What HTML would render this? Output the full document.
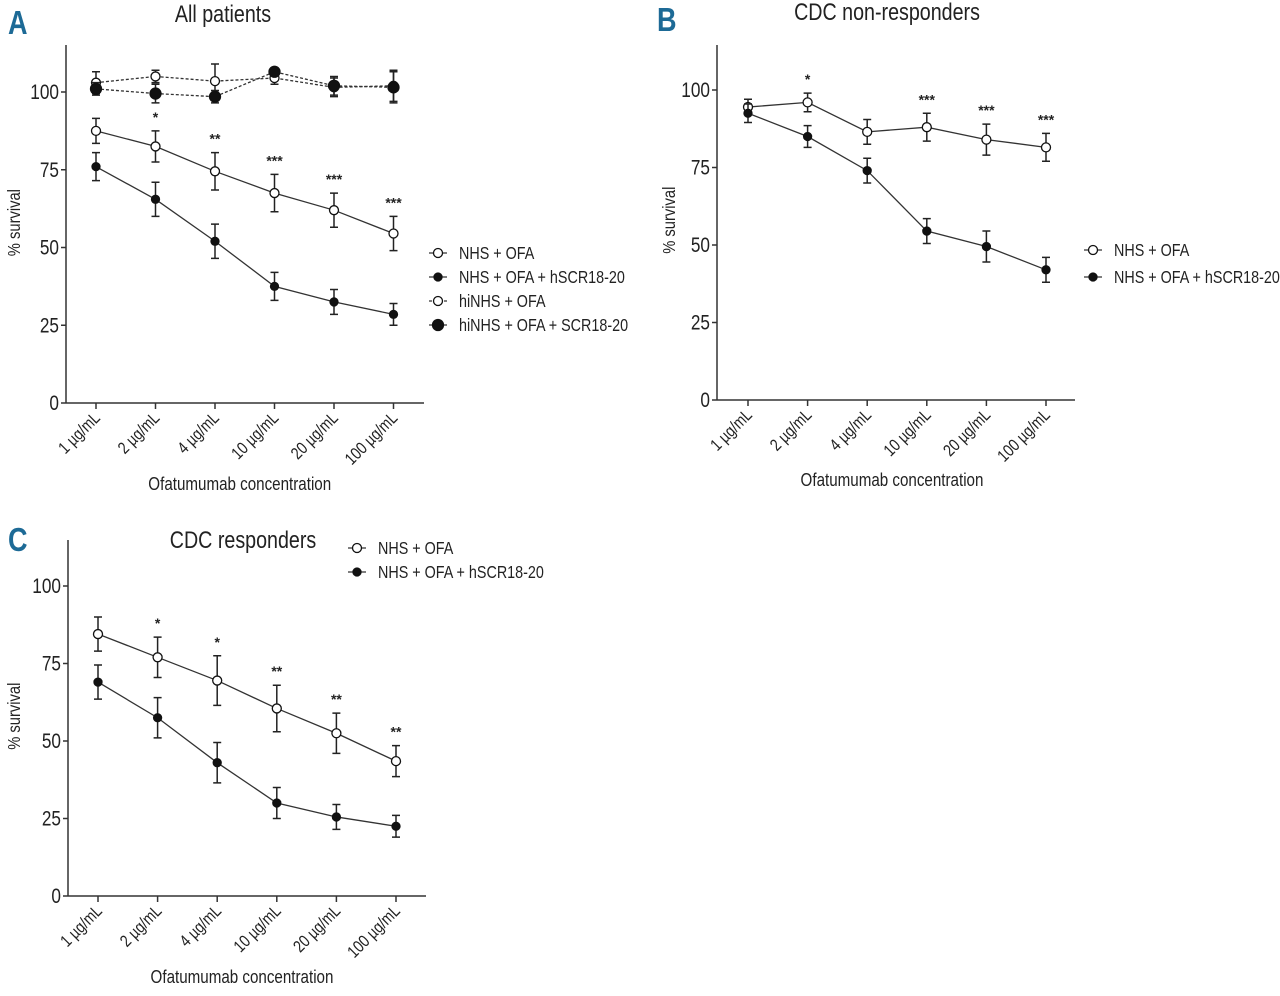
<!DOCTYPE html>
<html><head><meta charset="utf-8">
<style>
body{margin:0;background:#fff;}
svg{display:block;font-family:"Liberation Sans Narrow","Liberation Sans",sans-serif;}
text{fill:#222;}
</style></head>
<body>
<svg id="fig" width="1280" height="996" viewBox="0 0 1280 996"></svg>
<script>
const categories=["1 µg/mL","2 µg/mL","4 µg/mL","10 µg/mL","20 µg/mL","100 µg/mL"];
const yTicks=[0,25,50,75,100];
// Panel A
const aNhsOfa=[87.5,82.5,74.5,67.5,62,54.5];
const aNhsOfaErr=[4,5,6,6,5.5,5.5];
const aNhsScr=[76,65.5,52,37.5,32.5,28.5];
const aNhsScrErr=[4.5,5.5,5.5,4.5,4,3.5];
const aHiOfa=[103,105,103.5,104.5,101.5,102];
const aHiOfaErr=[3.5,2,5.5,2,3,5];
const aHiScr=[101,99.5,98.5,106.5,102,101.5];
const aHiScrErr=[2,3,2,1,3,5];
const aStars=["","*","**","***","***","***"];
// Panel B
const bNhsOfa=[94.5,96,86.5,88,84,81.5];
const bNhsOfaErr=[2.5,3,4,4.5,5,4.5];
const bNhsScr=[92.5,85,74,54.5,49.5,42];
const bNhsScrErr=[3,3.5,4,4,5,4];
const bStars=["","*","","***","***","***"];
// Panel C
const cNhsOfa=[84.5,77,69.5,60.5,52.5,43.5];
const cNhsOfaErr=[5.5,6.5,8,7.5,6.5,5];
const cNhsScr=[69,57.5,43,30,25.5,22.5];
const cNhsScrErr=[5.5,6.5,6.5,5,4,3.5];
const cStars=["","*","*","**","**","**"];

const NS="http://www.w3.org/2000/svg";
const svg=document.getElementById('fig');
const SX=0.82;
function el(tag,attrs,parent){const e=document.createElementNS(NS,tag);for(const k in attrs)e.setAttribute(k,attrs[k]);(parent||svg).appendChild(e);return e;}
function txt(x,y,s,attrs,parent,rot){
  const a=Object.assign({},attrs);
  a.x=0;a.y=0;
  a.transform=`translate(${x} ${y})`+(rot?` rotate(${rot})`:'')+` scale(${SX} 1)`;
  const t=el('text',a,parent);
  t.textContent=s;
  return t;
}

function panel(cfg){
  const g=el('g',{});
  
  
  const ax=cfg.ax,y0=cfg.y0,y100=cfg.y100,x0=cfg.x0,dx=cfg.dx;
  const ys=v=>y0+(y100-y0)*v/100;
  const xs=i=>x0+dx*i;
  const L=txt(cfg.lx,cfg.ly,cfg.letter,{'font-size':33,'font-weight':'bold',style:'fill:#1d6a96'},g);
  
  
  const T=txt(cfg.tx,cfg.ty,cfg.title,{'font-size':24,'text-anchor':'middle'},g);
  
  
  const ya=el('line',{x1:ax,y1:cfg.top,x2:ax,y2:y0,stroke:'#333','stroke-width':1.5},g);
  
  
  const xa=el('line',{x1:ax,y1:y0,x2:cfg.right,y2:y0,stroke:'#333','stroke-width':1.5},g);
  
  
  yTicks.forEach(v=>{
    el('line',{x1:ax-5,y1:ys(v),x2:ax,y2:ys(v),stroke:'#333','stroke-width':1.5},g);
    const t=txt(ax-7,ys(v)+7,String(v),{'font-size':21,'text-anchor':'end'},g);
    
    
  });
  categories.forEach((c,i)=>{
    el('line',{x1:xs(i),y1:y0,x2:xs(i),y2:y0+6,stroke:'#333','stroke-width':1.5},g);
    const t=txt(xs(i)+5,y0+16,c,{'font-size':17,'text-anchor':'end'},g,-45);
    
    
  });
  const yl=txt(cfg.ylx,ys(58),'% survival',{'font-size':18,'text-anchor':'middle'},g,-90);
  
  
  const xl=txt((xs(0)+xs(5))/2-5,cfg.xly,'Ofatumumab concentration',{'font-size':18.5,'text-anchor':'middle'},g);
  
  
  cfg.series.forEach(s=>{
    const sg=el('g',{},g);
    
    
    const pts=s.vals.map((v,i)=>xs(i)+','+ys(v)).join(' ');
    el('polyline',{points:pts,fill:'none',stroke:'#333','stroke-width':1.3,'stroke-dasharray':s.dash?'3,2':'none'},sg);
    s.vals.forEach((v,i)=>{
      const e=s.err[i],x=xs(i);
      el('path',{d:`M${x},${ys(v-e)}V${ys(v+e)}M${x-4},${ys(v-e)}H${x+4}M${x-4},${ys(v+e)}H${x+4}`,stroke:'#222','stroke-width':1.5,fill:'none'},sg);
      const m=el('circle',{cx:x,cy:ys(v),r:s.r,fill:s.filled?'#111':'#fff',stroke:'#111','stroke-width':1.3},sg);
      
      
    });
  });
  cfg.stars.forEach((st,i)=>{
    if(!st)return;
    const top=cfg.series[0].vals[i]+cfg.series[0].err[i];
    const t=el('text',{x:xs(i),y:ys(top)-9,'font-size':14,'text-anchor':'middle','font-weight':'bold'},g);
    t.textContent=st;
    
    
  });
  cfg.series.forEach((s,i)=>{
    const y=cfg.legY+i*cfg.legDy;
    const lg=el('g',{},g);
    
    
    el('line',{x1:cfg.legX-9,y1:y,x2:cfg.legX+9,y2:y,stroke:'#333','stroke-width':1.3,'stroke-dasharray':s.dash?'3,2':'none'},lg);
    el('circle',{cx:cfg.legX,cy:y,r:s.r,fill:s.filled?'#111':'#fff',stroke:'#111','stroke-width':1.3},lg);
    txt(cfg.legX+21,y+6,s.label,{'font-size':17.5},lg);
  });
}

panel({name:'panel-a-all-patients',letter:'A',lx:8,ly:34,title:'All patients',tx:223,ty:22,
  ax:66,top:45,right:424,y0:403,y100:92,x0:96,dx:59.5,ylx:20,xly:490,
  stars:aStars,legX:438,legY:253,legDy:24,
  series:[
    {name:'series-nhs-ofa',label:'NHS + OFA',vals:aNhsOfa,err:aNhsOfaErr,filled:false,r:4.5,dash:false},
    {name:'series-nhs-ofa-hscr',label:'NHS + OFA + hSCR18-20',vals:aNhsScr,err:aNhsScrErr,filled:true,r:4,dash:false},
    {name:'series-hinhs-ofa',label:'hiNHS + OFA',vals:aHiOfa,err:aHiOfaErr,filled:false,r:4.5,dash:true},
    {name:'series-hinhs-ofa-scr',label:'hiNHS + OFA + SCR18-20',vals:aHiScr,err:aHiScrErr,filled:true,r:5.5,dash:true}
  ]});
panel({name:'panel-b-non-responders',letter:'B',lx:657,ly:31,title:'CDC non-responders',tx:887,ty:20,
  ax:717,top:45,right:1075,y0:400,y100:90,x0:748,dx:59.6,ylx:675,xly:486,
  stars:bStars,legX:1093,legY:250,legDy:27,
  series:[
    {name:'series-nhs-ofa',label:'NHS + OFA',vals:bNhsOfa,err:bNhsOfaErr,filled:false,r:4.5,dash:false},
    {name:'series-nhs-ofa-hscr',label:'NHS + OFA + hSCR18-20',vals:bNhsScr,err:bNhsScrErr,filled:true,r:4,dash:false}
  ]});
panel({name:'panel-c-responders',letter:'C',lx:8,ly:551,title:'CDC responders',tx:243,ty:548,
  ax:68,top:540,right:426,y0:896,y100:586,x0:98,dx:59.6,ylx:20,xly:983,
  stars:cStars,legX:357,legY:548,legDy:24,
  series:[
    {name:'series-nhs-ofa',label:'NHS + OFA',vals:cNhsOfa,err:cNhsOfaErr,filled:false,r:4.5,dash:false},
    {name:'series-nhs-ofa-hscr',label:'NHS + OFA + hSCR18-20',vals:cNhsScr,err:cNhsScrErr,filled:true,r:4,dash:false}
  ]});
</script>
</body></html>
